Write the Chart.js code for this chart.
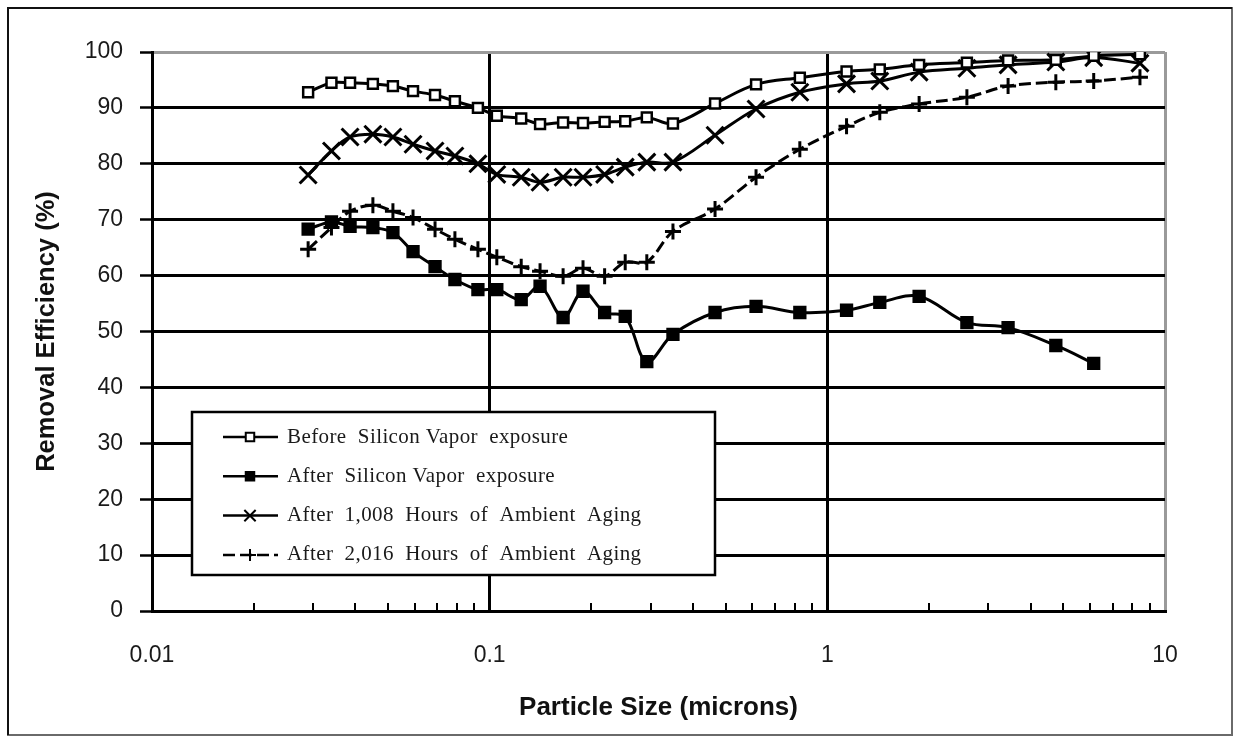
<!DOCTYPE html>
<html lang="en">

<head>
    <meta charset="UTF-8">
    <meta name="viewport" content="width=device-width, initial-scale=1.0">
    <title>Removal Efficiency vs Particle Size</title>
    <script src="https://cdn.jsdelivr.net/npm/chart.js"></script>
    <style>
        body {
            margin: 0;
            background: #fff;
        }

        .chart-container {
            width: 1235px;
            height: 738px;
        }
    </style>
</head>

<body>
    <div class="chart-container">
        <canvas id="efficiencyChart" width="1235" height="738"></canvas>
    </div>

    <script>
        // Particle sizes (microns) shared by all four curves
        const particleSize = [0.029, 0.034, 0.0386, 0.0451, 0.0517, 0.0593, 0.0689, 0.0789, 0.0923, 0.105,
            0.124, 0.141, 0.165, 0.189, 0.219, 0.252, 0.292, 0.349,
            0.465, 0.615, 0.829, 1.14, 1.43, 1.87, 2.59, 3.43, 4.75, 6.15, 8.43];

        const beforeExposure = [92.8, 94.5, 94.5, 94.3, 93.9, 93.0, 92.3, 91.2, 90.0, 88.6,
            88.1, 87.1, 87.4, 87.3, 87.5, 87.6, 88.3, 87.2,
            90.8, 94.2, 95.4, 96.5, 96.9, 97.7, 98.1, 98.5, 98.6, 99.3, 99.6];

        const afterExposure = [68.3, 69.6, 68.8, 68.6, 67.7, 64.3, 61.6, 59.3, 57.5, 57.5,
            55.7, 58.1, 52.5, 57.2, 53.4, 52.7, 44.6, 49.5,
            53.4, 54.5, 53.4, 53.8, 55.2, 56.3, 51.6, 50.7, 47.5, 44.3, null];

        const aged1008 = [78.0, 82.3, 84.8, 85.3, 84.8, 83.5, 82.3, 81.4, 80.0, 78.1,
            77.6, 76.7, 77.6, 77.6, 78.1, 79.4, 80.3, 80.3,
            85.1, 89.8, 92.8, 94.3, 94.8, 96.4, 97.1, 97.7, 98.2, 99.0, 98.0];

        const aged2016 = [64.7, 68.6, 71.5, 72.6, 71.5, 70.4, 68.3, 66.5, 64.7, 63.3,
            61.6, 60.8, 59.9, 61.3, 59.9, 62.4, 62.4, 67.9,
            71.9, 77.6, 82.6, 86.7, 89.2, 90.7, 91.9, 93.9, 94.6, 94.8, 95.5];

        const seriesNames = [
            'Before  Silicon Vapor  exposure',
            'After  Silicon Vapor  exposure',
            'After  1,008  Hours  of  Ambient  Aging',
            'After  2,016  Hours  of  Ambient  Aging'
        ];

        const xMajorTicks = [0.01, 0.1, 1, 10];
        const xTickLabels = ['0.01', '0.1', '1', '10'];

        // major decades plus the 2..9 minor marks between them
        const xTickValues = [];
        xMajorTicks.forEach((m, i) => {
            xTickValues.push(m);
            if (i < xMajorTicks.length - 1) {
                for (let k = 2; k <= 9; k++) xTickValues.push(m * k);
            }
        });

        const isNear = (a, b) => Math.abs(a - b) < b * 1e-6;
        const majorIndex = v => xMajorTicks.findIndex(m => isNear(v, m));

        function toPoints(values) {
            return particleSize
                .map((x, i) => ({ x: x, y: values[i] }))
                .filter(p => p.y !== null);
        }

        const sansFont = 'Liberation Sans, Arial, sans-serif';

        // white page with the thin outer frame
        const framePlugin = {
            id: 'frame',
            beforeDraw(chart) {
                const ctx = chart.ctx;
                ctx.save();
                ctx.fillStyle = '#fff';
                ctx.fillRect(0, 0, chart.width, chart.height);
                ctx.lineWidth = 2;
                ctx.strokeStyle = '#6a6a6a';
                ctx.strokeRect(8, 8, chart.width - 11, chart.height - 11);
                ctx.strokeStyle = '#111';
                ctx.beginPath();
                ctx.moveTo(8, chart.height - 3);
                ctx.lineTo(8, 8);
                ctx.lineTo(chart.width - 3, 8);
                ctx.stroke();
                ctx.restore();
            }
        };

        // small inward ticks on the x axis for the minor values
        const minorTicksPlugin = {
            id: 'minorTicks',
            afterDatasetsDraw(chart) {
                const ctx = chart.ctx;
                const xs = chart.scales.x;
                const bottom = chart.chartArea.bottom;
                ctx.save();
                ctx.strokeStyle = '#000';
                ctx.lineWidth = 2;
                xs.ticks.forEach(t => {
                    if (majorIndex(t.value) >= 0) return;
                    const px = Math.round(xs.getPixelForValue(t.value));
                    ctx.beginPath();
                    ctx.moveTo(px, bottom);
                    ctx.lineTo(px, bottom - 8);
                    ctx.stroke();
                });
                ctx.restore();
            }
        };

        // boxed legend drawn inside the plot, line sample + marker
        const boxLegendPlugin = {
            id: 'boxLegend',
            afterDatasetsDraw(chart) {
                const ctx = chart.ctx;
                const area = chart.chartArea;
                const left = area.left + 40;
                const top = area.top + 360;
                const w = 523, h = 163;
                ctx.save();
                ctx.fillStyle = '#fff';
                ctx.fillRect(left, top, w, h);
                ctx.strokeStyle = '#000';
                ctx.lineWidth = 2.5;
                ctx.strokeRect(left, top, w, h);

                chart.data.datasets.forEach((ds, i) => {
                    const y = top + 25 + i * 39.3;
                    ctx.strokeStyle = '#000';
                    ctx.lineWidth = 2.5;
                    ctx.setLineDash(ds.borderDash || []);
                    ctx.beginPath();
                    ctx.moveTo(left + 31, y);
                    ctx.lineTo(left + 86, y);
                    ctx.stroke();
                    ctx.setLineDash([]);
                    ctx.fillStyle = ds.pointBackgroundColor;
                    ctx.strokeStyle = '#000';
                    ctx.lineWidth = 2;
                    Chart.helpers.drawPoint(ctx, {
                        pointStyle: ds.pointStyle,
                        radius: ds.pointStyle === 'crossRot' ? 8 : 6,
                        rotation: 0,
                        borderWidth: 2
                    }, left + 58, y);

                    ctx.fillStyle = '#1a1a1a';
                    ctx.font = '21px "Liberation Serif", "Times New Roman", serif';
                    ctx.letterSpacing = '0.4px';
                    ctx.textBaseline = 'middle';
                    ctx.textAlign = 'left';
                    ctx.fillText(ds.label, left + 95, y);
                    ctx.letterSpacing = '0px';
                });
                ctx.restore();
            }
        };

        const ctx = document.getElementById('efficiencyChart').getContext('2d');

        const chart = new Chart(ctx, {
            type: 'line',
            data: {
                datasets: [
                    {
                        label: seriesNames[0],
                        data: toPoints(beforeExposure),
                        borderColor: '#000',
                        borderWidth: 3,
                        pointStyle: 'rect',
                        pointRadius: 7,
                        pointBackgroundColor: '#fff',
                        pointBorderColor: '#000',
                        pointBorderWidth: 2.5,
                        tension: 0.35
                    },
                    {
                        label: seriesNames[1],
                        data: toPoints(afterExposure),
                        borderColor: '#000',
                        borderWidth: 3,
                        pointStyle: 'rect',
                        pointRadius: 8,
                        pointBackgroundColor: '#000',
                        pointBorderColor: '#000',
                        pointBorderWidth: 2,
                        tension: 0.35
                    },
                    {
                        label: seriesNames[2],
                        data: toPoints(aged1008),
                        borderColor: '#000',
                        borderWidth: 3,
                        pointStyle: 'crossRot',
                        pointRadius: 12,
                        pointBackgroundColor: '#000',
                        pointBorderColor: '#000',
                        pointBorderWidth: 3,
                        tension: 0.35
                    },
                    {
                        label: seriesNames[3],
                        data: toPoints(aged2016),
                        borderColor: '#000',
                        borderWidth: 3,
                        borderDash: [12, 5],
                        pointStyle: 'cross',
                        pointRadius: 8,
                        pointBackgroundColor: '#000',
                        pointBorderColor: '#000',
                        pointBorderWidth: 3,
                        tension: 0.35
                    }
                ]
            },
            options: {
                responsive: false,
                animation: false,
                layout: {
                    padding: { left: 20, right: 70, top: 52, bottom: 12 }
                },
                plugins: {
                    legend: { display: false },
                    tooltip: { enabled: false }
                },
                scales: {
                    x: {
                        type: 'logarithmic',
                        min: 0.01,
                        max: 10,
                        afterBuildTicks: scale => {
                            scale.ticks = xTickValues.map(v => ({ value: v }));
                        },
                        afterFit: scale => { scale.height = 115; },
                        ticks: {
                            autoSkip: false,
                            maxRotation: 0,
                            padding: 31,
                            color: '#1a1a1a',
                            font: { family: sansFont, size: 23 },
                            callback: v => {
                                const i = majorIndex(v);
                                return i >= 0 ? xTickLabels[i] : '';
                            }
                        },
                        grid: {
                            drawTicks: false,
                            lineWidth: 3,
                            color: c => {
                                const v = c.tick ? c.tick.value : 0;
                                if (isNear(v, 10)) return '#9a9a9a';
                                return majorIndex(v) >= 0 ? '#000' : 'rgba(0,0,0,0)';
                            }
                        },
                        border: { display: true, color: '#000', width: 3 },
                        title: {
                            display: true,
                            text: 'Particle Size (microns)',
                            color: '#111',
                            font: { family: sansFont, size: 26, weight: 'bold' },
                            padding: { top: 0, bottom: 3 }
                        }
                    },
                    y: {
                        min: 0,
                        max: 100,
                        afterFit: scale => { scale.width = 132; },
                        ticks: {
                            stepSize: 10,
                            padding: 17,
                            color: '#1a1a1a',
                            font: { family: sansFont, size: 23 }
                        },
                        grid: {
                            lineWidth: 3,
                            tickLength: 12,
                            tickColor: '#000',
                            tickWidth: 2.5,
                            color: c => (c.tick && c.tick.value === 100) ? '#9a9a9a' : '#000'
                        },
                        border: { display: true, color: '#000', width: 3 },
                        title: {
                            display: true,
                            text: 'Removal Efficiency (%)',
                            color: '#111',
                            font: { family: sansFont, size: 25.5, weight: 'bold' },
                            padding: { top: 12, bottom: 0 }
                        }
                    }
                }
            },
            plugins: [framePlugin, minorTicksPlugin, boxLegendPlugin]
        });
    </script>
</body>

</html>
